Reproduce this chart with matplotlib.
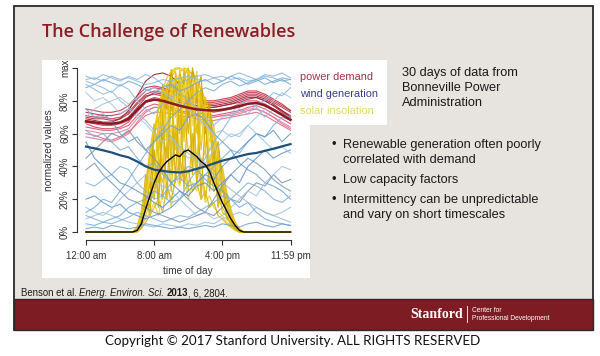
import matplotlib
matplotlib.use('Agg')
import matplotlib.pyplot as plt
from matplotlib.patches import Rectangle

# ---------------- data ----------------
hours = [0, 1, 2, 3, 4, 5, 6, 7, 8, 9, 10, 11, 12, 13, 14, 15, 16, 17, 18, 19, 20, 21, 22, 23, 24]

demand_mean = [0.674, 0.668, 0.662, 0.660, 0.668, 0.690, 0.745, 0.795, 0.807, 0.800, 0.785, 0.770, 0.758,
               0.748, 0.743, 0.741, 0.745, 0.755, 0.768, 0.782, 0.787, 0.772, 0.745, 0.715, 0.684]
demand_d1 = [0.73, 0.72, 0.71, 0.71, 0.72, 0.75, 0.81, 0.86, 0.88, 0.87, 0.85, 0.83, 0.82, 0.81, 0.80, 0.80, 0.81, 0.82, 0.84, 0.86, 0.86, 0.84, 0.81, 0.78, 0.74]
demand_d2 = [0.60, 0.59, 0.57, 0.56, 0.58, 0.61, 0.66, 0.71, 0.73, 0.73, 0.72, 0.71, 0.70, 0.69, 0.68, 0.68, 0.69, 0.70, 0.71, 0.72, 0.73, 0.71, 0.68, 0.65, 0.62]
demand_d3 = [0.70, 0.69, 0.69, 0.68, 0.69, 0.72, 0.78, 0.83, 0.84, 0.83, 0.81, 0.79, 0.78, 0.77, 0.76, 0.76, 0.77, 0.78, 0.80, 0.82, 0.82, 0.80, 0.77, 0.74, 0.71]
demand_d4 = [0.64, 0.63, 0.62, 0.62, 0.63, 0.65, 0.71, 0.76, 0.78, 0.77, 0.76, 0.74, 0.73, 0.72, 0.72, 0.71, 0.72, 0.73, 0.74, 0.76, 0.77, 0.75, 0.72, 0.69, 0.66]
demand_d5 = [0.69, 0.68, 0.67, 0.67, 0.69, 0.74, 0.83, 0.92, 0.96, 0.97, 0.95, 0.90, 0.84, 0.80, 0.78, 0.77, 0.78, 0.79, 0.81, 0.83, 0.83, 0.81, 0.78, 0.74, 0.70]
demand_d6 = [0.67, 0.66, 0.65, 0.65, 0.66, 0.68, 0.73, 0.79, 0.81, 0.80, 0.78, 0.77, 0.75, 0.74, 0.74, 0.73, 0.74, 0.75, 0.76, 0.78, 0.79, 0.77, 0.74, 0.71, 0.68]
demand_d7 = [0.62, 0.61, 0.60, 0.60, 0.61, 0.63, 0.69, 0.74, 0.76, 0.76, 0.74, 0.73, 0.72, 0.71, 0.70, 0.70, 0.71, 0.72, 0.73, 0.75, 0.75, 0.73, 0.70, 0.67, 0.64]
demand_d8 = [0.71, 0.70, 0.70, 0.69, 0.70, 0.73, 0.79, 0.84, 0.86, 0.85, 0.83, 0.81, 0.80, 0.79, 0.78, 0.78, 0.79, 0.80, 0.82, 0.84, 0.84, 0.82, 0.79, 0.76, 0.73]
demand_d9 = [0.66, 0.64, 0.63, 0.63, 0.64, 0.67, 0.74, 0.80, 0.82, 0.81, 0.79, 0.77, 0.76, 0.75, 0.74, 0.74, 0.75, 0.76, 0.78, 0.80, 0.80, 0.78, 0.75, 0.72, 0.69]
demand_d10 = [0.58, 0.57, 0.56, 0.55, 0.57, 0.60, 0.67, 0.73, 0.76, 0.76, 0.75, 0.73, 0.72, 0.71, 0.70, 0.70, 0.71, 0.71, 0.72, 0.74, 0.75, 0.73, 0.70, 0.66, 0.63]
demand_d11 = [0.75, 0.74, 0.73, 0.73, 0.74, 0.77, 0.83, 0.88, 0.89, 0.88, 0.86, 0.84, 0.82, 0.80, 0.79, 0.79, 0.80, 0.81, 0.83, 0.85, 0.85, 0.83, 0.80, 0.77, 0.74]
demand_d12 = [0.68, 0.67, 0.66, 0.66, 0.67, 0.70, 0.76, 0.82, 0.85, 0.84, 0.82, 0.80, 0.78, 0.77, 0.76, 0.76, 0.77, 0.78, 0.79, 0.81, 0.82, 0.80, 0.77, 0.73, 0.70]

wind_mean = [0.521, 0.510, 0.498, 0.485, 0.468, 0.455, 0.430, 0.400, 0.380, 0.372, 0.366, 0.363, 0.370,
             0.385, 0.400, 0.418, 0.435, 0.448, 0.462, 0.475, 0.482, 0.495, 0.508, 0.522, 0.536]
wind_d1 = [0.93, 0.94, 0.92, 0.95, 0.93, 0.94, 0.92, 0.90, 0.91, 0.93, 0.92, 0.94, 0.95, 0.93, 0.92, 0.94, 0.95, 0.93, 0.94, 0.92, 0.93, 0.95, 0.94, 0.92, 0.93]
wind_d2 = [0.88, 0.90, 0.93, 0.91, 0.89, 0.92, 0.90, 0.87, 0.85, 0.88, 0.90, 0.86, 0.88, 0.91, 0.93, 0.90, 0.92, 0.95, 0.93, 0.90, 0.92, 0.94, 0.91, 0.93, 0.90]
wind_d3 = [0.85, 0.80, 0.82, 0.78, 0.72, 0.75, 0.70, 0.66, 0.60, 0.55, 0.58, 0.50, 0.45, 0.48, 0.42, 0.50, 0.55, 0.60, 0.58, 0.65, 0.70, 0.75, 0.80, 0.85, 0.82]
wind_d4 = [0.62, 0.58, 0.60, 0.55, 0.50, 0.52, 0.45, 0.40, 0.42, 0.35, 0.30, 0.33, 0.28, 0.30, 0.35, 0.40, 0.45, 0.50, 0.48, 0.55, 0.60, 0.58, 0.65, 0.70, 0.68]
wind_d5 = [0.20, 0.22, 0.18, 0.15, 0.17, 0.12, 0.10, 0.08, 0.10, 0.12, 0.15, 0.20, 0.25, 0.30, 0.35, 0.32, 0.40, 0.45, 0.50, 0.55, 0.60, 0.58, 0.62, 0.55, 0.60]
wind_d6 = [0.08, 0.10, 0.12, 0.10, 0.08, 0.06, 0.05, 0.04, 0.03, 0.05, 0.04, 0.03, 0.05, 0.04, 0.06, 0.05, 0.08, 0.10, 0.12, 0.10, 0.15, 0.12, 0.10, 0.12, 0.15]
wind_d7 = [0.45, 0.50, 0.55, 0.60, 0.58, 0.62, 0.55, 0.50, 0.45, 0.38, 0.30, 0.25, 0.20, 0.15, 0.12, 0.10, 0.15, 0.20, 0.18, 0.25, 0.30, 0.28, 0.35, 0.30, 0.32]
wind_d8 = [0.30, 0.28, 0.32, 0.35, 0.40, 0.38, 0.30, 0.25, 0.20, 0.22, 0.18, 0.20, 0.30, 0.38, 0.45, 0.55, 0.62, 0.70, 0.75, 0.72, 0.78, 0.80, 0.85, 0.83, 0.88]
wind_d9 = [0.75, 0.70, 0.72, 0.68, 0.60, 0.55, 0.58, 0.50, 0.55, 0.60, 0.65, 0.62, 0.70, 0.72, 0.68, 0.60, 0.55, 0.50, 0.42, 0.38, 0.35, 0.30, 0.28, 0.25, 0.20]
wind_d10 = [0.15, 0.12, 0.10, 0.14, 0.20, 0.25, 0.30, 0.35, 0.30, 0.28, 0.25, 0.20, 0.15, 0.10, 0.12, 0.08, 0.10, 0.15, 0.20, 0.25, 0.22, 0.30, 0.35, 0.40, 0.38]
wind_d11 = [0.05, 0.04, 0.06, 0.08, 0.10, 0.15, 0.18, 0.20, 0.25, 0.22, 0.30, 0.35, 0.40, 0.38, 0.32, 0.28, 0.25, 0.20, 0.15, 0.18, 0.12, 0.08, 0.06, 0.05, 0.04]
wind_d12 = [0.92, 0.90, 0.88, 0.85, 0.90, 0.87, 0.80, 0.75, 0.72, 0.78, 0.82, 0.85, 0.80, 0.76, 0.70, 0.65, 0.70, 0.72, 0.78, 0.80, 0.76, 0.70, 0.75, 0.72, 0.70]
wind_d13 = [0.55, 0.45, 0.40, 0.35, 0.30, 0.28, 0.25, 0.22, 0.18, 0.15, 0.20, 0.25, 0.22, 0.28, 0.30, 0.25, 0.30, 0.35, 0.30, 0.40, 0.45, 0.50, 0.45, 0.48, 0.50]
wind_d14 = [0.70, 0.75, 0.78, 0.80, 0.82, 0.78, 0.82, 0.86, 0.88, 0.85, 0.82, 0.78, 0.75, 0.70, 0.65, 0.60, 0.62, 0.58, 0.60, 0.65, 0.60, 0.55, 0.50, 0.52, 0.48]
wind_d15 = [0.10, 0.08, 0.06, 0.05, 0.07, 0.09, 0.12, 0.10, 0.08, 0.06, 0.08, 0.10, 0.09, 0.12, 0.15, 0.18, 0.22, 0.20, 0.25, 0.30, 0.28, 0.25, 0.20, 0.18, 0.22]
wind_d16 = [0.38, 0.42, 0.35, 0.30, 0.25, 0.20, 0.18, 0.15, 0.12, 0.10, 0.08, 0.06, 0.08, 0.10, 0.12, 0.20, 0.28, 0.35, 0.40, 0.45, 0.42, 0.38, 0.32, 0.28, 0.25]
wind_d17 = [0.95, 0.93, 0.96, 0.94, 0.92, 0.95, 0.93, 0.96, 0.94, 0.90, 0.88, 0.91, 0.93, 0.95, 0.96, 0.94, 0.92, 0.95, 0.97, 0.95, 0.93, 0.96, 0.95, 0.97, 0.94]
wind_d18 = [0.02, 0.03, 0.02, 0.04, 0.03, 0.02, 0.03, 0.05, 0.04, 0.03, 0.02, 0.03, 0.02, 0.03, 0.04, 0.03, 0.05, 0.04, 0.03, 0.05, 0.06, 0.04, 0.03, 0.05, 0.04]
wind_d19 = [0.90, 0.87, 0.84, 0.86, 0.80, 0.76, 0.72, 0.68, 0.62, 0.65, 0.58, 0.52, 0.48, 0.44, 0.40, 0.35, 0.30, 0.26, 0.22, 0.18, 0.15, 0.12, 0.10, 0.08, 0.06]
wind_d20 = [0.12, 0.15, 0.20, 0.18, 0.25, 0.32, 0.40, 0.48, 0.55, 0.62, 0.70, 0.75, 0.80, 0.85, 0.88, 0.86, 0.90, 0.92, 0.89, 0.91, 0.93, 0.90, 0.92, 0.94, 0.93]

solar_hours = [0, 5.5, 6.0, 6.5, 7.0, 7.5, 8.0, 8.5, 9.0, 9.5, 10.0, 10.5, 11.0, 11.5, 12.0, 12.5, 13.0,
               13.5, 14.0, 14.5, 15.0, 15.5, 16.0, 16.5, 17.0, 17.5, 18.0, 18.5, 19.0, 24]
solar_mean = [0, 0, 0.01, 0.05, 0.14, 0.22, 0.30, 0.36, 0.40, 0.43, 0.45, 0.47, 0.46, 0.49, 0.50, 0.48,
              0.46, 0.43, 0.41, 0.37, 0.30, 0.24, 0.18, 0.13, 0.08, 0.04, 0.01, 0, 0, 0]
solar_d1 = [0, 0, 0.03, 0.12, 0.28, 0.45, 0.60, 0.74, 0.85, 0.55, 0.97, 0.99, 1.00, 0.62, 0.98, 0.96, 0.92, 0.86, 0.50, 0.70, 0.60, 0.47, 0.35, 0.23, 0.12, 0.05, 0.02, 0, 0, 0]
solar_d2 = [0, 0, 0.02, 0.08, 0.20, 0.15, 0.45, 0.30, 0.70, 0.90, 0.40, 0.95, 0.35, 0.98, 0.60, 0.90, 0.30, 0.85, 0.75, 0.40, 0.55, 0.20, 0.30, 0.10, 0.08, 0.03, 0.01, 0, 0, 0]
solar_d3 = [0, 0, 0.01, 0.04, 0.08, 0.12, 0.18, 0.10, 0.25, 0.30, 0.15, 0.35, 0.28, 0.40, 0.20, 0.30, 0.25, 0.35, 0.18, 0.22, 0.15, 0.12, 0.10, 0.06, 0.04, 0.02, 0.01, 0, 0, 0]
solar_d4 = [0, 0, 0.02, 0.10, 0.25, 0.40, 0.30, 0.68, 0.80, 0.88, 0.93, 0.70, 0.98, 0.99, 0.85, 0.97, 0.94, 0.50, 0.82, 0.74, 0.64, 0.30, 0.40, 0.25, 0.14, 0.06, 0.02, 0, 0, 0]
solar_d5 = [0, 0, 0.01, 0.06, 0.15, 0.30, 0.50, 0.20, 0.60, 0.45, 0.80, 0.90, 0.60, 0.95, 1.00, 0.70, 0.90, 0.80, 0.60, 0.65, 0.40, 0.45, 0.25, 0.20, 0.10, 0.04, 0.01, 0, 0, 0]
solar_d6 = [0, 0, 0.02, 0.09, 0.22, 0.38, 0.55, 0.62, 0.40, 0.85, 0.90, 0.50, 0.97, 0.75, 0.99, 0.45, 0.93, 0.88, 0.80, 0.35, 0.62, 0.50, 0.38, 0.15, 0.11, 0.05, 0.02, 0, 0, 0]
solar_d7 = [0, 0, 0.00, 0.03, 0.10, 0.18, 0.25, 0.40, 0.30, 0.50, 0.35, 0.60, 0.45, 0.70, 0.50, 0.55, 0.65, 0.40, 0.50, 0.30, 0.35, 0.20, 0.15, 0.10, 0.05, 0.02, 0.00, 0, 0, 0]
solar_d8 = [0, 0, 0.03, 0.11, 0.26, 0.44, 0.58, 0.70, 0.35, 0.90, 0.95, 0.98, 0.65, 1.00, 0.99, 0.96, 0.60, 0.88, 0.79, 0.70, 0.30, 0.45, 0.33, 0.21, 0.12, 0.05, 0.02, 0, 0, 0]
solar_d9 = [0, 0, 0.02, 0.07, 0.35, 0.20, 0.65, 0.50, 0.90, 0.75, 0.99, 0.80, 0.96, 0.90, 0.70, 1.00, 0.85, 0.95, 0.60, 0.80, 0.45, 0.55, 0.30, 0.18, 0.08, 0.03, 0.01, 0, 0, 0]
solar_d10 = [0, 0, 0.01, 0.10, 0.12, 0.38, 0.25, 0.55, 0.45, 0.70, 0.60, 0.85, 0.50, 0.90, 0.80, 0.65, 0.95, 0.55, 0.70, 0.50, 0.50, 0.35, 0.20, 0.15, 0.07, 0.02, 0.00, 0, 0, 0]
solar_d11 = [0, 0, 0.02, 0.05, 0.18, 0.30, 0.20, 0.45, 0.20, 0.55, 0.25, 0.65, 0.30, 0.50, 0.25, 0.60, 0.30, 0.45, 0.20, 0.40, 0.25, 0.30, 0.12, 0.10, 0.04, 0.02, 0.00, 0, 0, 0]
solar_d12 = [0, 0, 0.03, 0.13, 0.30, 0.47, 0.62, 0.76, 0.87, 0.94, 0.98, 1.00, 1.00, 0.99, 0.97, 0.93, 0.88, 0.81, 0.72, 0.61, 0.50, 0.38, 0.26, 0.15, 0.07, 0.02, 0.01, 0, 0, 0]
solar_d13 = [0, 0, 0.01, 0.04, 0.22, 0.10, 0.50, 0.15, 0.75, 0.20, 0.90, 0.30, 0.95, 0.25, 0.85, 0.35, 0.90, 0.20, 0.70, 0.25, 0.50, 0.15, 0.30, 0.08, 0.06, 0.02, 0.00, 0, 0, 0]
solar_d14 = [0, 0, 0.02, 0.10, 0.15, 0.42, 0.35, 0.60, 0.78, 0.60, 0.88, 0.70, 0.95, 0.80, 0.92, 0.75, 0.98, 0.65, 0.75, 0.55, 0.58, 0.42, 0.32, 0.20, 0.10, 0.04, 0.01, 0, 0, 0]
solar_d15 = [0, 0, 0.00, 0.02, 0.06, 0.10, 0.15, 0.20, 0.12, 0.28, 0.20, 0.32, 0.45, 0.30, 0.38, 0.25, 0.30, 0.20, 0.25, 0.15, 0.18, 0.10, 0.08, 0.05, 0.03, 0.01, 0.00, 0, 0, 0]
solar_d16 = [0, 0, 0.02, 0.09, 0.27, 0.50, 0.66, 0.45, 0.88, 0.80, 0.50, 0.97, 0.90, 0.55, 0.96, 0.85, 0.40, 0.83, 0.65, 0.72, 0.35, 0.48, 0.28, 0.22, 0.10, 0.04, 0.01, 0, 0, 0]

x_ticks = [0, 8, 16, 24]
x_tick_labels = ['12:00 am', '8:00 am', '4:00 pm', '11:59 pm']
y_ticks = [0, 0.2, 0.4, 0.6, 0.8, 1.0]
y_tick_labels = ['0%', '20%', '40%', '60%', '80%', 'max']

demand_days = [demand_d1, demand_d2, demand_d3, demand_d4, demand_d5, demand_d6,
               demand_d7, demand_d8, demand_d9, demand_d10, demand_d11, demand_d12]
wind_days = [wind_d1, wind_d2, wind_d3, wind_d4, wind_d5, wind_d6, wind_d7, wind_d8, wind_d9, wind_d10,
             wind_d11, wind_d12, wind_d13, wind_d14, wind_d15, wind_d16, wind_d17, wind_d18, wind_d19, wind_d20]
solar_days = [solar_d1, solar_d2, solar_d3, solar_d4, solar_d5, solar_d6, solar_d7, solar_d8,
              solar_d9, solar_d10, solar_d11, solar_d12, solar_d13, solar_d14, solar_d15, solar_d16]

# ---------------- figure / slide ----------------
W, H = 600, 356
fig = plt.figure(figsize=(6, 3.56), dpi=100)
fig.patch.set_facecolor('white')

bg = fig.add_axes([0, 0, 1, 1])
bg.set_xlim(0, W)
bg.set_ylim(H, 0)
bg.axis('off')

bg.add_patch(Rectangle((14, 6), 579, 324, facecolor='#e7e4df', edgecolor='#2a2a2a', lw=1.3))
bg.add_patch(Rectangle((14, 299), 579, 31, facecolor='#7d1c22', edgecolor='#2a2a2a', lw=1.0))
bg.add_patch(Rectangle((42, 60), 268, 218, facecolor='white', edgecolor='none'))
bg.add_patch(Rectangle((290, 60), 97, 65, facecolor='white', edgecolor='none'))

bg.text(42, 32, 'The Challenge of Renewables', fontsize=13, color='#8c1d24',
        family='Open Sans', weight='semibold', va='center', ha='left')

# legend
bg.text(300, 77, 'power demand', fontsize=7.9, color='#a3334a', family='Liberation Sans', va='center')
bg.text(300, 94, 'wind generation', fontsize=7.9, color='#3c3c9c', family='Liberation Sans', va='center')
bg.text(300, 111, 'solar insolation', fontsize=7.9, color='#e2d76a', family='Liberation Sans', va='center')

# right-hand text
FS = 9.2
for i, line in enumerate(['30 days of data from', 'Bonneville Power', 'Administration']):
    bg.text(402, 73 + 15 * i, line, fontsize=FS, color='#1a1a1a', family='Liberation Sans', va='center')

bullets = [(145, 'Renewable generation often poorly', True),
           (160, 'correlated with demand', False),
           (180, 'Low capacity factors', True),
           (200, 'Intermittency can be unpredictable', True),
           (215, 'and vary on short timescales', False)]
for y, t, b in bullets:
    if b:
        bg.text(331, y, '\u2022', fontsize=FS, color='#1a1a1a', family='Liberation Sans', va='center')
    bg.text(343, y, t, fontsize=FS, color='#1a1a1a', family='Liberation Sans', va='center')

# citation (pieces chained one after another)
renderer = fig.canvas.get_renderer()
cx = 21
for txt, kw in [('Benson et al.', {}), ('Energ. Environ. Sci.', {'style': 'italic'}),
                ('2013', {'weight': 'bold'}), (', 6, 2804.', {})]:
    if txt.startswith(','):
        cx -= 2.4
    t = bg.text(cx, 293, txt, fontsize=6.9, color='#1a1a1a', family='Liberation Sans', va='center', **kw)
    bb = t.get_window_extent(renderer)
    cx = bb.x1 + 2.4

# Stanford logo
bg.text(463, 314, 'Stanford', fontsize=10, color='white', family='Liberation Serif', weight='bold',
        ha='right', va='center')
bg.plot([467, 467], [306, 322], color='white', lw=0.6)
bg.text(472, 310, 'Center for', fontsize=4.8, color='white', family='Liberation Sans', va='center')
bg.text(472, 318, 'Professional Development', fontsize=4.8, color='white', family='Liberation Sans', va='center')

# copyright
bg.text(293, 341, 'Copyright \u00a9 2017 Stanford University. ALL RIGHTS RESERVED', fontsize=9.6,
        color='#111111', family='Lato', ha='center', va='center')

# ---------------- chart ----------------
x0, x1, ytop, ybot = 86, 290.5, 68, 232
ax = fig.add_axes([x0 / W, 1 - ybot / H, (x1 - x0) / W, (ybot - ytop) / H])
ax.set_facecolor('none')
ax.set_xlim(0, 24)
ax.set_ylim(0, 1)

dcols = ['#c41e3a', '#e0607e', '#b01f35', '#d94468', '#8f1426', '#cc2d4f', '#e87a94', '#bb2a40',
         '#d0355a', '#e36d8a', '#c0283f', '#a81a30']
for d, c in zip(demand_days, dcols):
    ax.plot(hours, d, color=c, lw=0.8, alpha=0.85, clip_on=False)

scols = ['#e6c400', '#d9b300', '#f0d23c', '#e3bd10', '#cfae00', '#ecc91f', '#dcc040', '#e8c000',
         '#c9a200', '#f2d84a', '#e0b800', '#ebc814', '#d4ad00', '#f0cf30', '#dab820', '#e4c20a']
for d, c in zip(solar_days, scols):
    ax.plot(solar_hours, d, color=c, lw=0.9, alpha=0.9, clip_on=False)

wcols = ['#8ab8de', '#6fa6d6', '#a3c7e4', '#7aaedb', '#5f97cc', '#98bfe0', '#7e8ea6', '#86b4dc',
         '#6aa0d2', '#a0c4e2', '#74a9d8', '#8fbadf', '#5b93c8', '#9bc2e1', '#80b0da', '#7597b8',
         '#8cb6dc', '#6d9fcf', '#9ab9d6', '#78a8d4']
for d, c in zip(wind_days, wcols):
    ax.plot(hours, d, color=c, lw=0.8, alpha=0.85, clip_on=False)

ax.plot(hours, demand_mean, color='#8b1a22', lw=1.8, clip_on=False)
ax.plot(hours, wind_mean, color='#1f4e79', lw=1.6, clip_on=False)
ax.plot(solar_hours, solar_mean, color='black', lw=1.0, clip_on=False)

for s in ['top', 'right']:
    ax.spines[s].set_visible(False)
ax.spines['left'].set_position(('outward', 6.5))
ax.spines['bottom'].set_position(('outward', 6))
ax.spines['left'].set_bounds(0, 1)
ax.spines['bottom'].set_bounds(0, 24)
for s in ['left', 'bottom']:
    ax.spines[s].set_color('#333333')
    ax.spines[s].set_linewidth(0.8)

ax.set_xticks(x_ticks)
ax.set_xticklabels(x_tick_labels, fontsize=7, color='#333333', family='Liberation Sans')
ax.set_yticks(y_ticks)
ax.set_yticklabels(y_tick_labels, fontsize=7, color='#333333', family='Liberation Sans',
                   rotation=90, va='center')
ax.tick_params(axis='x', direction='out', length=3.5, width=0.8, color='#333333', pad=4)
ax.tick_params(axis='y', direction='out', length=3.5, width=0.8, color='#333333', pad=1.5)
ax.set_xlabel('time of day', fontsize=7.3, color='#333333', family='Liberation Sans', labelpad=3.5)
ax.set_ylabel('normalized values', fontsize=7.3, color='#333333', family='Liberation Sans', labelpad=4)

fig.savefig('out.png', dpi=100, facecolor='white')
